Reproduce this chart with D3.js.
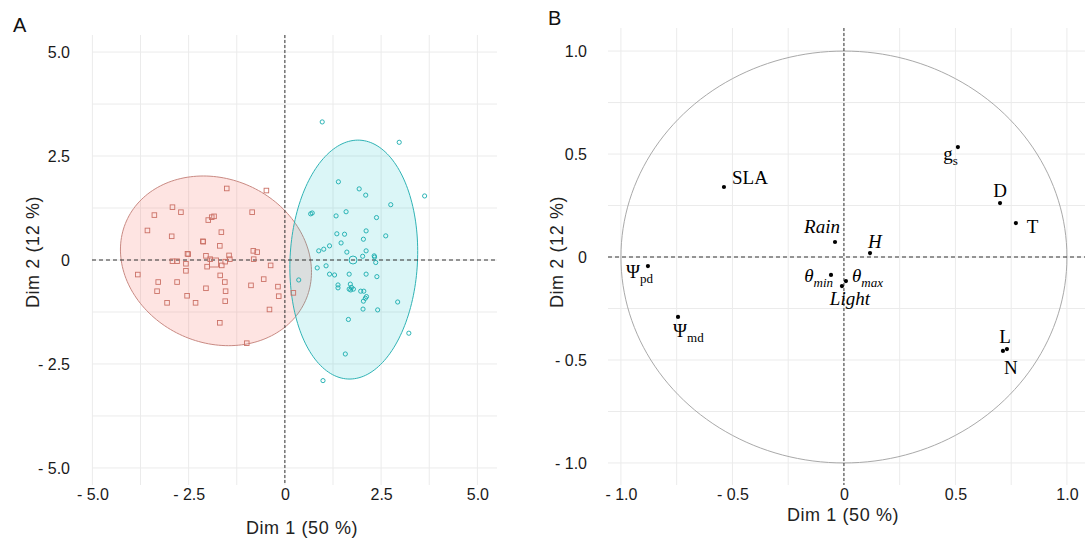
<!DOCTYPE html>
<html>
<head>
<meta charset="utf-8">
<script src="https://cdn.jsdelivr.net/npm/d3@7"></script>
<style>
  html, body { margin: 0; padding: 0; background: #fff; }
  svg { display: block; }
</style>
</head>
<body>
<svg id="chart" width="1085" height="540"></svg>
<script>
// ---------------- DATA ----------------
// Panel A: individuals (Dim1, Dim2), group 1 (squares) and group 2 (circles)
const group1X = [-1.51,-0.48,-2.92,-2.70,-3.39,-0.85,-1.99,-1.90,-1.84,-3.57,-1.65,-2.94,-2.13,-2.12,-1.69,-2.53,-2.51,-0.82,-0.72,-1.45,-2.05,-1.94,-1.43,-0.81,-2.92,-2.80,-1.55,-2.57,-1.64,-2.02,-0.37,-2.57,-3.82,-1.68,-3.29,-2.80,-1.56,-0.55,-0.88,-0.18,-2.05,-3.32,-1.54,-2.54,-0.16,0.22,-3.06,-2.32,-1.55,-0.40,-1.69,-0.99];
const group1Y = [1.72,1.67,1.27,1.15,1.08,1.15,0.96,1.03,1.05,0.71,0.67,0.57,0.45,0.44,0.34,0.15,0.14,0.22,0.19,0.11,0.10,0.02,0.02,0.02,-0.03,-0.03,-0.04,-0.09,-0.13,-0.16,-0.13,-0.26,-0.35,-0.37,-0.53,-0.53,-0.53,-0.46,-0.61,-0.64,-0.68,-0.75,-0.75,-0.86,-0.87,-0.79,-1.03,-1.03,-0.99,-1.19,-1.51,-2.00];
const group2X = [0.97,2.97,3.63,1.39,1.93,2.10,2.75,0.67,0.71,1.33,1.59,2.38,1.35,1.55,2.11,2.62,2.04,1.46,1.16,1.01,0.88,1.61,2.11,2.02,2.32,2.33,2.36,0.84,1.07,1.16,1.29,1.67,2.11,2.39,0.36,1.38,1.38,1.70,1.73,1.67,1.71,1.78,1.97,2.05,2.12,2.09,2.04,2.93,2.03,2.41,1.65,3.22,1.57,0.99];
const group2Y = [3.32,2.83,1.54,1.88,1.71,1.56,1.33,1.11,1.13,1.06,1.16,1.02,0.63,0.62,0.70,0.58,0.50,0.41,0.34,0.26,0.22,0.19,0.22,0.09,0.10,0.07,-0.06,-0.19,-0.14,-0.34,-0.36,-0.34,-0.34,-0.40,-0.48,-0.60,-0.67,-0.58,-0.66,-0.70,-0.72,-0.70,-0.75,-0.75,-0.88,-0.92,-0.99,-1.01,-1.18,-1.20,-1.43,-1.76,-2.26,-2.90];
const groupMeans = [[-1.84,-0.06],[1.77,0.00]];
// confidence ellipses: centre and two conjugate semi-axis vectors (data units)
const ellipseCenters = [[-1.79,-0.02],[1.79,0.01]];
const ellipseU = [[2.325,-0.958],[1.66,0.12]];
const ellipseV = [[-0.866,-1.801],[0.04,2.87]];

// Panel B: variables (correlation circle)
const varNames = ["SLA","Rain","H","θ","θ","Light","Ψ","Ψ","g","D","T","L","N"];
const varSubs  = ["","","","min","max","","pd","md","s","","","",""];
const varItalic = [false,true,true,true,true,true,false,false,false,false,false,false,false];
const varX = [-0.538,-0.040,0.117,-0.058,0.009,-0.009,-0.879,-0.744,0.511,0.700,0.771,0.713,0.731];
const varY = [0.340,0.073,0.019,-0.087,-0.117,-0.141,-0.044,-0.291,0.534,0.262,0.165,-0.456,-0.447];

// Tick labels
const ticksA = [-5,-2.5,0,2.5,5];
const tickLabelsA = ["- 5.0","- 2.5","0","2.5","5.0"];
const ticksB = [-1,-0.5,0,0.5,1];
const tickLabelsB = ["- 1.0","- 0.5","0","0.5","1.0"];
const gridA = [-5,-3.75,-2.5,-1.25,0,1.25,2.5,3.75,5];
const gridB = [-1,-0.75,-0.5,-0.25,0,0.25,0.5,0.75,1];

// ---------------- LAYOUT / STYLE ----------------
const labelLayout = [ // dx, dy (px from point), anchor
  [8,-3,"start"],[5,-9,"end"],[-2,-5,"start"],[2,7,"end"],[6,1,"start"],[8,19,"middle"],
  [5,12,"end"],[-5,20,"start"],[0,13,"end"],[0,-6,"middle"],[11,10,"start"],[2,-8,"middle"],[4,25,"middle"]
];
const sans = "'Liberation Sans', Arial, sans-serif";
const serif = "'Liberation Serif', 'Times New Roman', serif";
const pinkStroke = "#cb7166", cyanStroke = "#17abae";

const svg = d3.select("#chart");

// scales
const xA = d3.scaleLinear().domain([-5.01, 5.51]).range([92, 497]);
const yA = d3.scaleLinear().domain([5.41, -5.41]).range([35, 485]);
const xB = d3.scaleLinear().domain([-1.058, 1.081]).range([608, 1085]);
const yB = d3.scaleLinear().domain([1.112, -1.107]).range([28, 485]);

function grid(g, xs, ys, gx, gy) {
  const [x0, x1] = xs.range(), [y0, y1] = ys.range();
  g.selectAll("line.gx").data(gx).join("line").attr("class","gx")
    .attr("x1", d => xs(d)).attr("x2", d => xs(d)).attr("y1", y0).attr("y2", y1)
    .attr("stroke", "#ebebeb").attr("stroke-width", 1);
  g.selectAll("line.gy").data(gy).join("line").attr("class","gy")
    .attr("y1", d => ys(d)).attr("y2", d => ys(d)).attr("x1", x0).attr("x2", x1)
    .attr("stroke", "#ebebeb").attr("stroke-width", 1);
}
function zeroLines(g, xs, ys) {
  const [x0, x1] = xs.range(), [y0, y1] = ys.range();
  g.append("line").attr("x1", xs(0)).attr("x2", xs(0)).attr("y1", y0).attr("y2", y1)
    .attr("stroke", "#333").attr("stroke-width", 1).attr("stroke-dasharray", "3,2");
  g.append("line").attr("y1", ys(0)).attr("y2", ys(0)).attr("x1", x0).attr("x2", x1)
    .attr("stroke", "#333").attr("stroke-width", 1).attr("stroke-dasharray", "4,3");
}
function axes(g, xs, ys, tv, tl, yAxisX, xAxisY) {
  const fmt = d => tl[tv.indexOf(d)];
  const ax = g.append("g").attr("transform", `translate(0,${xAxisY})`)
    .call(d3.axisBottom(xs).tickValues(tv).tickFormat(fmt).tickSize(0).tickPadding(4));
  const ay = g.append("g").attr("transform", `translate(${yAxisX},0)`)
    .call(d3.axisLeft(ys).tickValues(tv).tickFormat(fmt).tickSize(0).tickPadding(0));
  [ax, ay].forEach(a => {
    a.select(".domain").remove();
    a.selectAll("text").attr("font-family", sans).attr("font-size", 16).attr("fill", "#1a1a1a");
  });
}

// ---------------- PANEL A ----------------
const gA = svg.append("g");
grid(gA, xA, yA, gridA, gridA);

const ellFill = ["#F8766D", "#00BFC4"], ellStroke = ["#c98a83", "#2fb3b5"], ellOp = [0.2, 0.14];
const ts = d3.range(0, 2 * Math.PI + 0.01, Math.PI / 90);
ellipseCenters.forEach((c, i) => {
  const pts = ts.map(t => [
    xA(c[0] + ellipseU[i][0] * Math.cos(t) + ellipseV[i][0] * Math.sin(t)),
    yA(c[1] + ellipseU[i][1] * Math.cos(t) + ellipseV[i][1] * Math.sin(t))
  ]);
  gA.append("path").attr("d", d3.line()(pts) + "Z")
    .attr("fill", ellFill[i]).attr("fill-opacity", ellOp[i])
    .attr("stroke", ellStroke[i]).attr("stroke-width", 1);
});
zeroLines(gA, xA, yA);

const sq = 4.6;
gA.selectAll("rect.g1").data(d3.range(group1X.length)).join("rect").attr("class","g1")
  .attr("x", i => xA(group1X[i]) - sq/2).attr("y", i => yA(group1Y[i]) - sq/2)
  .attr("width", sq).attr("height", sq)
  .attr("fill", "none").attr("stroke", pinkStroke).attr("stroke-width", 0.9);
gA.selectAll("circle.g2").data(d3.range(group2X.length)).join("circle").attr("class","g2")
  .attr("cx", i => xA(group2X[i])).attr("cy", i => yA(group2Y[i])).attr("r", 2.1)
  .attr("fill", "none").attr("stroke", cyanStroke).attr("stroke-width", 0.9);
// group means (larger markers)
gA.append("rect").attr("x", xA(groupMeans[0][0]) - 4.5).attr("y", yA(groupMeans[0][1]) - 4.5)
  .attr("width", 9).attr("height", 9).attr("fill", "none").attr("stroke", pinkStroke).attr("stroke-width", 0.9);
gA.append("circle").attr("cx", xA(groupMeans[1][0])).attr("cy", yA(groupMeans[1][1])).attr("r", 4)
  .attr("fill", "none").attr("stroke", cyanStroke).attr("stroke-width", 0.9);

axes(gA, xA, yA, ticksA, tickLabelsA, 70, 485);

// ---------------- PANEL B ----------------
const gB = svg.append("g");
grid(gB, xB, yB, gridB, gridB);
const circ = ts.map(t => [xB(Math.cos(t)), yB(Math.sin(t))]);
gB.append("path").attr("d", d3.line()(circ) + "Z")
  .attr("fill", "none").attr("stroke", "#a9a9a9").attr("stroke-width", 1);
zeroLines(gB, xB, yB);

gB.selectAll("circle.v").data(d3.range(varX.length)).join("circle").attr("class","v")
  .attr("cx", i => xB(varX[i])).attr("cy", i => yB(varY[i])).attr("r", 2.1).attr("fill", "#000");

const lab = gB.selectAll("text.v").data(d3.range(varX.length)).join("text").attr("class","v")
  .attr("x", i => xB(varX[i]) + labelLayout[i][0])
  .attr("y", i => yB(varY[i]) + labelLayout[i][1])
  .attr("text-anchor", i => labelLayout[i][2])
  .attr("font-family", serif).attr("font-size", 19).attr("fill", "#000");
lab.each(function(i) {
  const t = d3.select(this);
  t.append("tspan").text(varNames[i]).attr("font-style", varItalic[i] ? "italic" : "normal");
  if (varSubs[i]) {
    t.append("tspan").text(varSubs[i]).attr("font-size", 13).attr("dy", 5)
      .attr("font-style", varItalic[i] ? "italic" : "normal");
  }
});

axes(gB, xB, yB, ticksB, tickLabelsB, 587, 485);

// ---------------- TITLES ----------------
svg.append("text").attr("x", 13).attr("y", 32).text("A")
  .attr("font-family", sans).attr("font-size", 20).attr("fill", "#111");
svg.append("text").attr("x", 548).attr("y", 25).text("B")
  .attr("font-family", sans).attr("font-size", 20).attr("fill", "#111");

const axisTitles = [
  {t: "Dim 1 (50 %)", x: 302, y: 534, r: 0},
  {t: "Dim 1 (50 %)", x: 843, y: 521, r: 0},
  {t: "Dim 2 (12 %)", x: 39, y: 252, r: -90},
  {t: "Dim 2 (12 %)", x: 563, y: 252, r: -90}
];
svg.selectAll("text.at").data(axisTitles).join("text").attr("class","at")
  .attr("transform", d => `translate(${d.x},${d.y}) rotate(${d.r})`)
  .attr("text-anchor", "middle").text(d => d.t)
  .attr("font-family", sans).attr("font-size", 18).attr("letter-spacing", 0.6).attr("fill", "#222");
</script>
</body>
</html>
